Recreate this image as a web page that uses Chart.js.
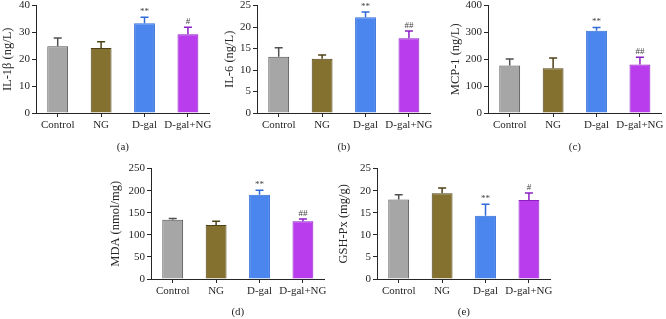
<!DOCTYPE html>
<html lang="en">
<head>
<meta charset="UTF-8">
<title>Inflammatory and oxidative markers</title>
<script src="https://cdn.jsdelivr.net/npm/chart.js"></script>
<style>
  body { margin: 0; background: #fff; }
  #wrap { position: relative; width: 666px; height: 319px; overflow: hidden; background: #fff; }
  #wrap canvas { position: absolute; }
</style>
</head>
<body>
<div id="wrap">
  <canvas id="chartA"></canvas>
  <canvas id="chartB"></canvas>
  <canvas id="chartC"></canvas>
  <canvas id="chartD"></canvas>
  <canvas id="chartE"></canvas>
</div>
<script>
const categories = ['Control', 'NG', 'D-gal', 'D-gal+NG'];

const il1bMean = [24.9, 24.2, 33.4, 29.3];
const il1bErr  = [3.0, 2.3, 2.3, 2.6];
const il6Mean  = [13.1, 12.6, 22.3, 17.4];
const il6Err   = [2.1, 0.9, 1.2, 1.7];
const mcp1Mean = [177, 167, 306, 181];
const mcp1Err  = [24, 38, 12, 27];
const mdaMean  = [134, 122, 191, 131];
const mdaErr   = [3, 9, 10, 5];
const gshMean  = [18.0, 19.4, 14.3, 17.9];
const gshErr   = [1.1, 1.2, 2.6, 1.6];

const marksAD = ['', '', '**', '#'];
const marksB  = ['', '', '**', '##'];
const marksE  = ['', '', '**', '#'];

const barColors  = ['#a6a6a6', '#84712f', '#4a86ee', '#b93ded'];
const edgeColors = ['#505050', '#4f4218', '#2f6ad8', '#8c1fc4'];

const serif = '"Liberation Serif", "DejaVu Serif", serif';
const ink = '#262626';

// draws the (upper) error bars and the significance marks
const errorBarPlugin = {
  id: 'errorBars',
  afterDatasetsDraw(chart, args, opts) {
    const ctx = chart.ctx;
    const yScale = chart.scales.y;
    const meta = chart.getDatasetMeta(0);
    ctx.save();
    meta.data.forEach((bar, i) => {
      const top = yScale.getPixelForValue(opts.means[i] + opts.errors[i]);
      ctx.strokeStyle = edgeColors[i];
      ctx.lineWidth = 1.5;
      ctx.beginPath();
      ctx.moveTo(bar.x, bar.y);
      ctx.lineTo(bar.x, top);
      ctx.moveTo(bar.x - 4, top);
      ctx.lineTo(bar.x + 4, top);
      ctx.stroke();
      if (opts.marks[i]) {
        ctx.fillStyle = '#444';
        ctx.font = '9px ' + serif;
        ctx.textAlign = 'center';
        ctx.textBaseline = 'bottom';
        ctx.fillText(opts.marks[i], bar.x, top - 1);
      }
    });
    ctx.restore();
  }
};

function makePanel(id, p) {
  const canvas = document.getElementById(id);
  canvas.width = p.width;
  canvas.height = p.height;
  canvas.style.left = p.left + 'px';
  canvas.style.top = p.top + 'px';
  return new Chart(canvas, {
    type: 'bar',
    data: {
      labels: categories,
      datasets: [{
        data: p.means,
        backgroundColor: barColors,
        borderColor: edgeColors,
        borderWidth: 1,
        barPercentage: 0.48,
        categoryPercentage: 1
      }]
    },
    options: {
      responsive: false,
      animation: false,
      layout: { padding: { top: 0, right: 4, bottom: 0, left: 0 } },
      plugins: {
        legend: { display: false },
        tooltip: { enabled: false },
        errorBars: { means: p.means, errors: p.errors, marks: p.marks }
      },
      scales: {
        x: {
          grid: { display: true, drawOnChartArea: false, offset: false, tickLength: 4, color: ink },
          border: { display: true, color: ink, width: 1 },
          ticks: { color: ink, font: { family: serif, size: 11 }, padding: 2, maxRotation: 0, autoSkip: false },
          title: { display: true, text: p.caption, color: ink, font: { family: serif, size: 11 }, padding: { top: 2, bottom: p.captionPad } },
          afterFit(scale) { scale.height = p.xHeight; }
        },
        y: {
          min: p.min, max: p.max,
          grid: { display: true, drawOnChartArea: false, tickLength: 4, color: ink },
          border: { display: true, color: ink, width: 1 },
          ticks: { stepSize: p.step, color: ink, font: { family: serif, size: 11 }, padding: 2 },
          title: { display: true, text: p.yTitle, color: ink, font: { family: serif, size: 12.5 }, padding: 0 },
          afterFit(scale) { scale.width = p.axisWidth; }
        }
      }
    },
    plugins: [errorBarPlugin]
  });
}

makePanel('chartA', { left: 0, top: -3, width: 214, height: 159, axisWidth: 36, xHeight: 43, captionPad: 2,
  means: il1bMean, errors: il1bErr, marks: marksAD, min: 0, max: 40, step: 10, yTitle: 'IL-1β (ng/L)', caption: '(a)' });
makePanel('chartB', { left: 222, top: -3, width: 213, height: 159, axisWidth: 35, xHeight: 43, captionPad: 2,
  means: il6Mean, errors: il6Err, marks: marksB, min: 0, max: 25, step: 5, yTitle: 'IL-6 (ng/L)', caption: '(b)' });
makePanel('chartC', { left: 448, top: -3, width: 218, height: 159, axisWidth: 40, xHeight: 43, captionPad: 2,
  means: mcp1Mean, errors: mcp1Err, marks: marksB, min: 0, max: 400, step: 100, yTitle: 'MCP-1 (ng/L)', caption: '(c)' });
makePanel('chartD', { left: 108, top: 160, width: 221, height: 159, axisWidth: 43, xHeight: 40, captionPad: 0,
  means: mdaMean, errors: mdaErr, marks: marksB, min: 0, max: 250, step: 50, yTitle: 'MDA (nmol/mg)', caption: '(d)' });
makePanel('chartE', { left: 336, top: 160, width: 219, height: 159, axisWidth: 41, xHeight: 40, captionPad: 0,
  means: gshMean, errors: gshErr, marks: marksE, min: 0, max: 25, step: 5, yTitle: 'GSH-Px (mg/g)', caption: '(e)' });
</script>
</body>
</html>
